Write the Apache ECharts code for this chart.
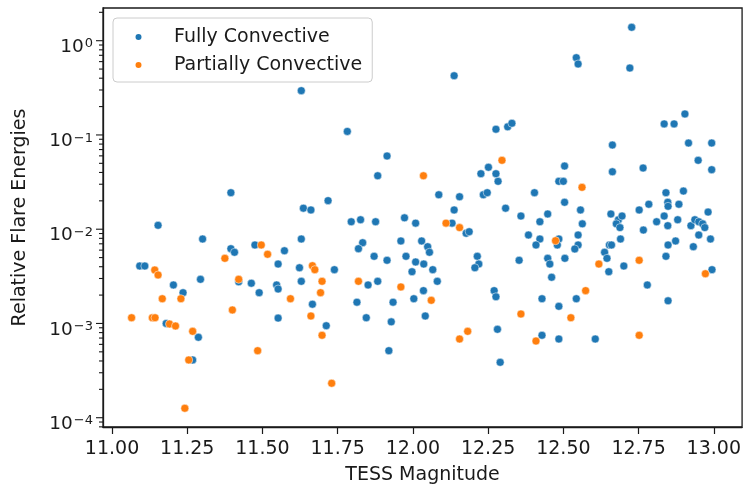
<!DOCTYPE html>
<html>
<head>
<meta charset="utf-8">
<script src="https://cdn.jsdelivr.net/npm/echarts@6/dist/echarts.min.js"></script>
<style>
html,body{margin:0;padding:0;background:#fff;}
#chart{width:744px;height:491px;}
</style>
</head>
<body>
<div id="chart"></div>
<script>
// ---- data ----
const fullyX = [
  11.629, 12.137, 11.782, 12.276, 12.315, 12.329, 11.914, 11.883, 12.226, 12.251,
  12.276, 12.283, 12.086, 12.155, 12.234, 12.247, 11.718, 11.636, 11.661, 12.137,
  12.308, 11.795, 11.826, 11.876, 11.972, 12.009, 12.130, 12.177, 12.187, 11.395,
  11.153, 12.727, 12.543, 12.549, 12.721, 12.904, 12.835, 12.868, 12.663, 12.916,
  12.993, 12.948, 12.504, 12.663, 12.765, 12.993, 12.485, 12.500, 12.404, 12.841,
  12.899, 12.504, 12.359, 12.422, 12.448, 12.557, 12.563, 12.658, 12.683, 12.695,
  12.676, 12.688, 12.752, 12.784, 12.847, 12.848, 12.884, 12.981, 12.810, 12.835,
  12.847, 12.880, 12.766, 12.924, 12.937, 12.950, 12.963, 12.970, 12.384, 12.422,
  12.409, 12.485, 12.480, 12.549, 12.549, 12.538, 12.653, 12.660, 12.690, 12.637,
  12.645, 12.651, 12.701, 12.848, 12.873, 12.841, 12.932, 12.950, 12.989, 12.353,
  12.448, 12.455, 12.505, 12.461, 12.994, 12.779, 12.429, 12.485, 12.543, 12.848,
  12.429, 12.485, 12.606, 11.629, 11.833, 11.819, 11.960, 12.029, 12.049, 12.055,
  11.871, 11.914, 11.977, 12.009, 12.036, 12.214, 12.219, 12.206, 11.623, 11.739,
  11.997, 12.066, 11.629, 11.851, 11.883, 12.081, 12.035, 12.270, 12.276, 11.666,
  11.814, 11.934, 12.003, 11.845, 11.928, 12.041, 11.712, 12.281, 11.920, 12.290,
  11.301, 11.092, 11.109, 11.204, 11.236, 11.294, 11.180, 11.287, 11.268, 11.395,
  11.407, 11.421, 11.463, 11.489, 11.475, 11.573, 11.552, 11.547, 11.552, 11.552
];
const fullyY = [
  0.295, 0.425, 0.109, 0.115, 0.122, 0.133, 0.0598, 0.0369, 0.0388, 0.0454,
  0.0388, 0.0322, 0.0232, 0.0221, 0.0232, 0.0244, 0.0201, 0.0167, 0.016, 0.016,
  0.0167, 0.012, 0.0126, 0.012, 0.0132, 0.0116, 0.0116, 0.00905, 0.0094, 0.0244,
  0.011, 1.387, 0.66, 0.566, 0.513, 0.167, 0.131, 0.131, 0.0782, 0.0821,
  0.0821, 0.0538, 0.0468, 0.0407, 0.0446, 0.0428, 0.0322, 0.0322, 0.0244, 0.0244,
  0.0254, 0.0193, 0.0138, 0.012, 0.0145, 0.016, 0.0114, 0.0145, 0.0126, 0.0138,
  0.0114, 0.0104, 0.016, 0.0184, 0.0193, 0.0175, 0.0184, 0.0152, 0.012, 0.0138,
  0.0109, 0.0126, 0.0098, 0.0109, 0.0126, 0.012, 0.0114, 0.0104, 0.00868, 0.00787,
  0.0068, 0.00787, 0.0068, 0.00868, 0.0068, 0.00617, 0.0068, 0.0068, 0.00787, 0.00569,
  0.00491, 0.00354, 0.00407, 0.0068, 0.0075, 0.00516, 0.00652, 0.00868, 0.00787, 0.00468,
  0.00491, 0.00427, 0.00491, 0.00309, 0.00372, 0.00256, 0.00183, 0.00152, 0.00183, 0.00174,
  0.000749, 0.000684, 0.000684, 0.00787, 0.00719, 0.00621, 0.0075, 0.0075, 0.00652, 0.00569,
  0.00516, 0.00468, 0.00516, 0.00449, 0.00427, 0.00516, 0.00427, 0.0039, 0.0039, 0.00372,
  0.00354, 0.00372, 0.0028, 0.00256, 0.0028, 0.0028, 0.00223, 0.00223, 0.00192, 0.0016,
  0.00168, 0.00168, 0.00183, 0.00115, 0.00104, 0.0012, 0.000946, 0.000867, 0.000514, 0.000387,
  0.00787, 0.00407, 0.00407, 0.00256, 0.00212, 0.00294, 0.001, 0.000713, 0.00041, 0.00621,
  0.00569, 0.00277, 0.00267, 0.00212, 0.0068, 0.00591, 0.00427, 0.00256, 0.00232, 0.00114
];
const partialX = [
  12.296, 12.035, 12.110, 12.155, 12.562, 12.474, 12.618, 12.752, 12.972, 12.574,
  12.359, 12.525, 12.409, 12.752, 11.666, 11.674, 11.698, 11.819, 11.960, 11.693,
  11.593, 12.061, 11.661, 11.698, 12.182, 12.155, 11.730, 11.142, 11.153, 11.167,
  11.229, 11.065, 11.134, 11.143, 11.191, 11.211, 11.268, 11.255, 11.242, 11.375,
  11.421, 11.496, 11.517, 11.400, 11.484
];
const partialY = [
  0.0538, 0.0369, 0.0116, 0.0104, 0.0278, 0.00755, 0.00427, 0.00468, 0.00337, 0.00223,
  0.00126, 0.00115, 0.000651, 0.000749, 0.0041, 0.00372, 0.0028, 0.0028, 0.00244, 0.00212,
  0.00183, 0.00176, 0.0012, 0.000749, 0.000825, 0.000684, 0.000232, 0.00369, 0.00327, 0.00183,
  0.00183, 0.00115, 0.00115, 0.00115, 0.000987, 0.00094, 0.000825, 0.00041, 0.000126, 0.00491,
  0.00294, 0.0068, 0.00542, 0.00139, 0.000514
];
const seriesNames = ['Fully Convective', 'Partially Convective'];
const seriesColors = ['#1f77b4', '#ff7f0e'];
const xTickVals = [11.00, 11.25, 11.50, 11.75, 12.00, 12.25, 12.50, 12.75, 13.00];
const yDecades = [-4, -3, -2, -1, 0];
const xTitle = 'TESS Magnitude';
const yTitle = 'Relative Flare Energies';

// ---- axis extents ----
const X_MIN = 10.970, X_MAX = 13.094;
const Y_MIN = 7.97e-5, Y_MAX = 2.223;
const FONT = 'DejaVu Sans';
const INK = '#1a1a1a';
const FS = 19;

// tick marks for the log axis (major at decades, minor at 2..9)
const yTickData = [];
for (let d = -5; d <= 0; d++) {
  for (let k = 1; k <= 9; k++) {
    const v = k * Math.pow(10, d);
    if (v >= Y_MIN && v <= Y_MAX) yTickData.push([X_MIN, v, k === 1 ? 1 : 0]);
  }
}

function zip(a, b) { return a.map((v, i) => [v, b[i]]); }

function yLabel(v) {
  const e = Math.round(Math.log10(v));
  if (yDecades.indexOf(e) < 0) return '';
  const s = String(e).replace('-', '\u2212');
  return '{b|10}{s|' + s + '}';
}

const chart = echarts.init(document.getElementById('chart'), null, {renderer: 'canvas'});
chart.setOption({
  animation: false,
  backgroundColor: '#ffffff',
  textStyle: {fontFamily: FONT},
  grid: {left: 103, right: -3, top: 8, bottom: 64, show: true, borderColor: INK, borderWidth: 1.3, backgroundColor: 'transparent'},
  legend: {
    orient: 'vertical',
    left: 113, top: 18,
    padding: [9.5, 10, 7.5, 20.5],
    itemWidth: 40, itemHeight: 8, itemGap: 9,
    icon: 'circle',
    backgroundColor: 'rgba(255,255,255,0.85)',
    borderColor: '#cccccc', borderWidth: 1, borderRadius: 4,
    textStyle: {fontFamily: FONT, fontSize: FS, color: INK, padding: [0, 0, 0, 10.5]},
    data: seriesNames
  },
  xAxis: {
    type: 'value', min: X_MIN, max: X_MAX,
    axisLine: {show: true, onZero: false, lineStyle: {color: INK, width: 1.3}},
    axisTick: {show: true, length: 7, customValues: xTickVals, lineStyle: {color: INK, width: 1.2}},
    splitLine: {show: false},
    axisLabel: {show: true, customValues: xTickVals, margin: 13, fontFamily: FONT, fontSize: FS, color: INK,
      formatter: v => Number(v).toFixed(2)},
    name: xTitle, nameLocation: 'middle', nameGap: 39,
    nameTextStyle: {fontFamily: FONT, fontSize: FS, color: INK}
  },
  yAxis: {
    type: 'log', logBase: 10, min: Y_MIN, max: Y_MAX,
    axisLine: {show: true, lineStyle: {color: INK, width: 1.3}},
    axisTick: {show: false},
    splitLine: {show: false},
    minorTick: {show: false},
    axisLabel: {show: true, showMinLabel: false, showMaxLabel: false, margin: 10, formatter: yLabel,
      rich: {
        b: {fontFamily: FONT, fontSize: 18.5, lineHeight: 18.5, color: INK, padding: [6, 0, 0, 0], verticalAlign: 'top'},
        s: {fontFamily: FONT, fontSize: 13, lineHeight: 13, color: INK, padding: [6, 0, 0, 1], verticalAlign: 'top'}
      }},
    name: yTitle, nameLocation: 'middle', nameGap: 73, nameRotate: 90,
    nameTextStyle: {fontFamily: FONT, fontSize: FS, color: INK}
  },
  series: [
    {
      name: seriesNames[0], type: 'scatter', data: zip(fullyX, fullyY),
      symbol: 'circle', symbolSize: 8,
      itemStyle: {color: seriesColors[0], borderColor: '#ffffff', borderWidth: 0.5, opacity: 1}
    },
    {
      name: seriesNames[1], type: 'scatter', data: zip(partialX, partialY),
      symbol: 'circle', symbolSize: 8,
      itemStyle: {color: seriesColors[1], borderColor: '#ffffff', borderWidth: 0.5, opacity: 1}
    },
    {
      type: 'custom', silent: true, clip: false, z: 10,
      data: yTickData,
      encode: {x: 0, y: 1},
      renderItem: function (params, api) {
        const p = api.coord([api.value(0), api.value(1)]);
        const len = api.value(2) ? 7 : 4;
        return {type: 'line', shape: {x1: p[0] - len, y1: p[1], x2: p[0], y2: p[1]},
          style: {stroke: INK, lineWidth: 1.1}};
      }
    }
  ]
});
</script>
</body>
</html>
